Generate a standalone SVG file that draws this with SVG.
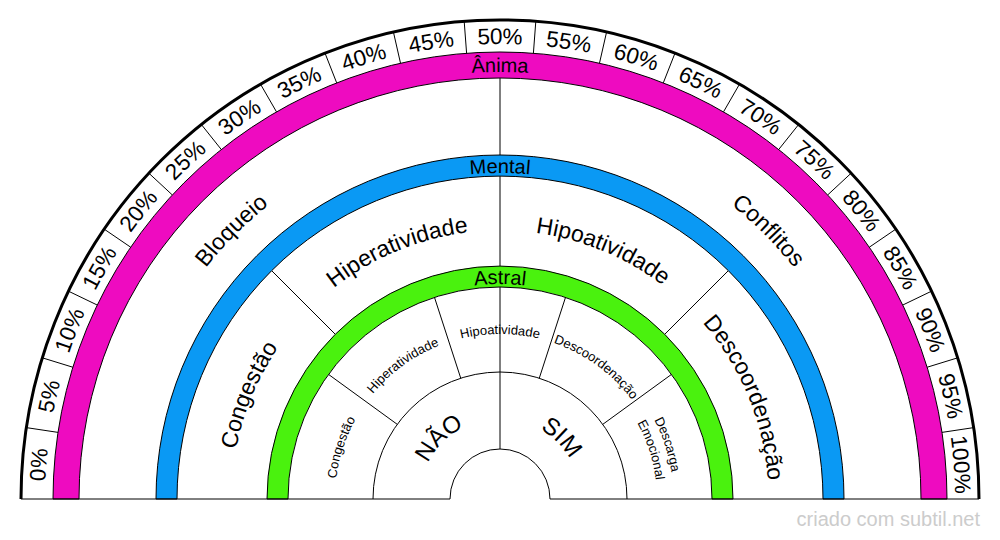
<svg xmlns="http://www.w3.org/2000/svg" xmlns:xlink="http://www.w3.org/1999/xlink" width="1000" height="540" viewBox="0 0 1000 540">
<style>
.t{font-family:"Liberation Sans",Arial,sans-serif;fill:#000;text-anchor:middle}
.pct{font-size:22.5px}
.big{font-size:23px}
.nm{font-size:24px}
.rl{font-size:20px}
.sm{font-size:13px}
.band{stroke:#000;stroke-width:1}
.div{stroke:#000;stroke-width:1;fill:none}
.edge{stroke:#000;stroke-width:1;fill:none}
</style>
<defs>
<path id="c455" d="M500 954 A455 455 0 0 1 500 44 A455 455 0 0 1 500 954"/>
<path id="c427" d="M500 926 A427 427 0 0 1 500 72 A427 427 0 0 1 500 926"/>
<path id="c374" d="M500 873 A374 374 0 0 1 500 125 A374 374 0 0 1 500 873"/>
<path id="c326" d="M500 825 A326 326 0 0 1 500 173 A326 326 0 0 1 500 825"/>
<path id="c269" d="M500 767.5 A268.5 268.5 0 0 1 500 230.5 A268.5 268.5 0 0 1 500 767.5"/>
<path id="c215" d="M500 714 A215 215 0 0 1 500 284 A215 215 0 0 1 500 714"/>
<path id="c172" d="M500 672.5 A173.5 173.5 0 0 1 500 325.5 A173.5 173.5 0 0 1 500 672.5"/>
<path id="c165" d="M500 664 A165 165 0 0 1 500 334 A165 165 0 0 1 500 664"/>
<path id="c157" d="M500 656 A157 157 0 0 1 500 342 A157 157 0 0 1 500 656"/>
<path id="c81" d="M500 579.5 A80.5 80.5 0 0 1 500 418.5 A80.5 80.5 0 0 1 500 579.5"/>
</defs>
<rect width="1000" height="540" fill="#fff"/>
<g id="connectors">
<line class="div" x1="500" y1="78" x2="500" y2="449"/>
<line class="div" x1="335.24" y1="334.24" x2="271.6" y2="270.6"/>
<line class="div" x1="664.76" y1="334.24" x2="728.4" y2="270.6"/>
<line class="div" x1="397.25" y1="424.35" x2="328.49" y2="374.39"/>
<line class="div" x1="460.75" y1="378.22" x2="434.49" y2="297.38"/>
<line class="div" x1="539.25" y1="378.22" x2="565.51" y2="297.38"/>
<line class="div" x1="602.75" y1="424.35" x2="671.51" y2="374.39"/>
</g>
<g id="scale">
<g class="div">
<line x1="942.01" y1="432.38" x2="973.65" y2="427.61"/><line x1="57.99" y1="432.38" x2="26.35" y2="427.61"/>
<line x1="927.14" y1="367.24" x2="957.72" y2="357.81"/><line x1="72.86" y1="367.24" x2="42.28" y2="357.81"/>
<line x1="902.73" y1="305.06" x2="931.56" y2="291.17"/><line x1="97.27" y1="305.06" x2="68.44" y2="291.17"/>
<line x1="869.33" y1="247.20" x2="895.77" y2="229.17"/><line x1="130.67" y1="247.20" x2="104.23" y2="229.17"/>
<line x1="827.67" y1="194.96" x2="851.13" y2="173.20"/><line x1="172.33" y1="194.96" x2="148.87" y2="173.20"/>
<line x1="778.70" y1="149.52" x2="798.65" y2="124.50"/><line x1="221.30" y1="149.52" x2="201.35" y2="124.50"/>
<line x1="723.5" y1="111.88" x2="739.5" y2="84.17"/><line x1="276.5" y1="111.88" x2="260.5" y2="84.17"/>
<line x1="663.31" y1="82.90" x2="675.00" y2="53.11"/><line x1="336.69" y1="82.90" x2="325.00" y2="53.11"/>
<line x1="599.47" y1="63.21" x2="606.59" y2="32.01"/><line x1="400.53" y1="63.21" x2="393.41" y2="32.01"/>
<line x1="533.40" y1="53.25" x2="535.80" y2="21.34"/><line x1="466.60" y1="53.25" x2="464.20" y2="21.34"/>
</g>
<path d="M21 499 A479 479 0 0 1 979 499" fill="none" stroke="#000" stroke-width="3"/>
<g class="t pct">
<text><textPath xlink:href="#c455" startOffset="26.190%">0%</textPath></text>
<text><textPath xlink:href="#c455" startOffset="28.571%">5%</textPath></text>
<text><textPath xlink:href="#c455" startOffset="30.952%">10%</textPath></text>
<text><textPath xlink:href="#c455" startOffset="33.333%">15%</textPath></text>
<text><textPath xlink:href="#c455" startOffset="35.714%">20%</textPath></text>
<text><textPath xlink:href="#c455" startOffset="38.095%">25%</textPath></text>
<text><textPath xlink:href="#c455" startOffset="40.476%">30%</textPath></text>
<text><textPath xlink:href="#c455" startOffset="42.857%">35%</textPath></text>
<text><textPath xlink:href="#c455" startOffset="45.238%">40%</textPath></text>
<text><textPath xlink:href="#c455" startOffset="47.619%">45%</textPath></text>
<text><textPath xlink:href="#c455" startOffset="50%">50%</textPath></text>
<text><textPath xlink:href="#c455" startOffset="52.381%">55%</textPath></text>
<text><textPath xlink:href="#c455" startOffset="54.762%">60%</textPath></text>
<text><textPath xlink:href="#c455" startOffset="57.143%">65%</textPath></text>
<text><textPath xlink:href="#c455" startOffset="59.524%">70%</textPath></text>
<text><textPath xlink:href="#c455" startOffset="61.905%">75%</textPath></text>
<text><textPath xlink:href="#c455" startOffset="64.286%">80%</textPath></text>
<text><textPath xlink:href="#c455" startOffset="66.667%">85%</textPath></text>
<text><textPath xlink:href="#c455" startOffset="69.048%">90%</textPath></text>
<text><textPath xlink:href="#c455" startOffset="71.429%">95%</textPath></text>
<text><textPath xlink:href="#c455" startOffset="73.810%">100%</textPath></text>
</g>
</g>
<g id="ring-anima">
<path class="band" fill="#EE0BC0" d="M53 499 A447 447 0 0 1 947 499 L921 499 A421 421 0 0 0 79 499 Z"/>
<text class="t rl"><textPath xlink:href="#c427" startOffset="50%">Ânima</textPath></text>
</g>
<g id="ring-mental">
<path class="band" fill="#0A99F4" d="M156 499 A344 344 0 0 1 844 499 L823 499 A323 323 0 0 0 177 499 Z"/>
<text class="t rl"><textPath xlink:href="#c326" startOffset="50%">Mental</textPath></text>
</g>
<g id="ring-astral">
<path class="band" fill="#4AF20E" d="M267 499 A233 233 0 0 1 733 499 L712 499 A212 212 0 0 0 288 499 Z"/>
<text class="t rl"><textPath xlink:href="#c215" startOffset="50%">Astral</textPath></text>
</g>
<g id="inner-rings">
<path class="edge" d="M373 499 A127 127 0 0 1 627 499"/>
<path class="edge" d="M450 499 A50 50 0 0 1 550 499"/>
<path class="edge" d="M21 499 L450 499 M550 499 L979 499"/>
</g>
<g id="bloqueio"><text class="t big"><textPath xlink:href="#c374" startOffset="37.5%">Bloqueio</textPath></text></g>
<g id="conflitos"><text class="t big"><textPath xlink:href="#c374" startOffset="62.5%">Conflitos</textPath></text></g>
<g id="mental-congestao"><text class="t big"><textPath xlink:href="#c269" startOffset="31.25%">Congestão</textPath></text></g>
<g id="mental-hiperatividade"><text class="t big"><textPath xlink:href="#c269" startOffset="43.75%">Hiperatividade</textPath></text></g>
<g id="mental-hipoatividade"><text class="t big"><textPath xlink:href="#c269" startOffset="56.25%">Hipoatividade</textPath></text></g>
<g id="mental-descoordenacao"><text class="t big"><textPath xlink:href="#c269" startOffset="68.75%">Descoordenação</textPath></text></g>
<g id="astral-congestao"><text class="t sm"><textPath xlink:href="#c165" startOffset="30%">Congestão</textPath></text></g>
<g id="astral-hiperatividade"><text class="t sm"><textPath xlink:href="#c165" startOffset="40%">Hiperatividade</textPath></text></g>
<g id="astral-hipoatividade"><text class="t sm"><textPath xlink:href="#c165" startOffset="50%">Hipoatividade</textPath></text></g>
<g id="astral-descoordenacao"><text class="t sm"><textPath xlink:href="#c165" startOffset="60%">Descoordenação</textPath></text></g>
<g id="astral-descarga">
<text class="t sm"><textPath xlink:href="#c172" startOffset="70%">Descarga</textPath></text>
<text class="t sm"><textPath xlink:href="#c157" startOffset="70%">Emocional</textPath></text>
</g>
<g id="nao"><text class="t nm"><textPath xlink:href="#c81" startOffset="37.5%">NÃO</textPath></text></g>
<g id="sim"><text class="t nm"><textPath xlink:href="#c81" startOffset="62.5%">SIM</textPath></text></g>
<text x="980" y="526" font-family="Liberation Sans, Arial, sans-serif" font-size="20" fill="#cccccc" text-anchor="end">criado com subtil.net</text>
</svg>
